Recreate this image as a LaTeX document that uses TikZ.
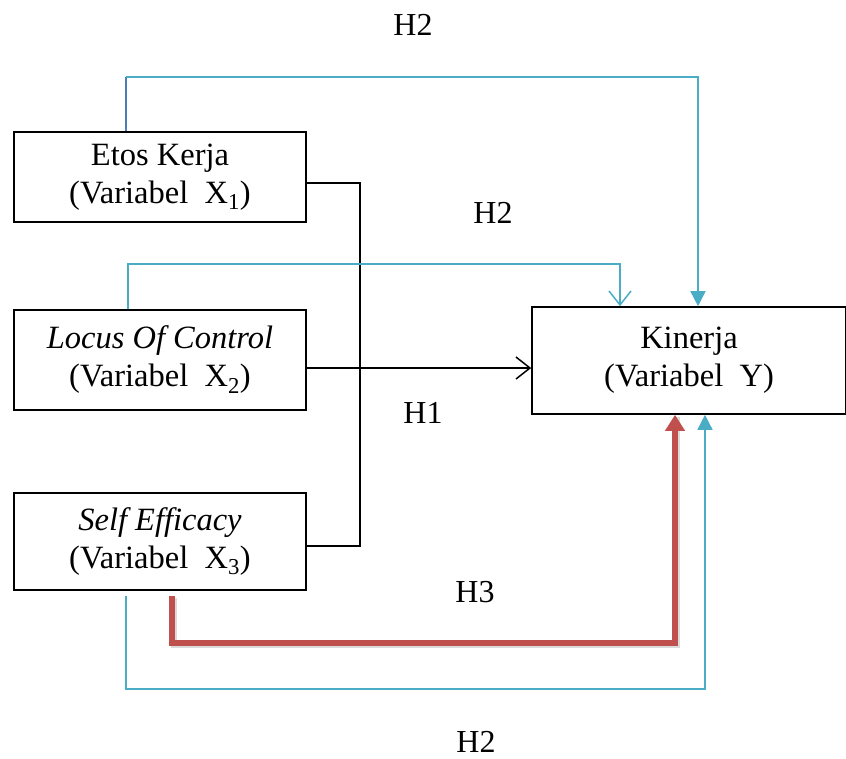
\documentclass[tikz,border=0pt]{standalone}
\usepackage{fontspec}
\setmainfont{Liberation Serif}
\usetikzlibrary{arrows.meta}
\definecolor{cblue}{HTML}{4BACC6}
\definecolor{dblue}{HTML}{4A7EBB}
\definecolor{cred}{HTML}{C0504D}
\begin{document}
\begin{tikzpicture}[x=1pt,y=-1pt,
  box/.style={draw=black,line width=1.6pt,fill=white,inner sep=0pt,align=center,
    font=\fontsize{32.5}{38}\selectfont},
  lbl/.style={font=\fontsize{32}{38}\selectfont,inner sep=0pt},
  blk/.style={draw=black,line width=1.6pt},
  bl/.style={draw=cblue,line width=1.5pt},
  rd/.style={draw=cred,line width=6pt},
  tri/.style={-{Triangle[length=15pt,width=15pt]}},
  barb/.style={-{Straight Barb[length=14pt,width=22pt,line width=1.5pt]}}
]
\useasboundingbox (0,0) rectangle (846,758);
\node[box,minimum width=292pt,minimum height=90pt] (x1) at (160,177)
  {Etos Kerja\\(Variabel\ \ X\textsubscript{1})};
\node[box,minimum width=292pt,minimum height=100pt] (x2) at (160,360)
  {\textit{Locus Of Control}\\(Variabel\ \ X\textsubscript{2})};
\node[box,minimum width=292pt,minimum height=97pt] (x3) at (160,541.5)
  {\textit{Self Efficacy}\\(Variabel\ \ X\textsubscript{3})};
\node[box,minimum width=314pt,minimum height=107pt] (y) at (689,360.5)
  {Kinerja\\(Variabel\ \ Y)};

\node[lbl] (h2a) at (413,25) {H2};
\node[lbl] (h2b) at (493,213) {H2};
\node[lbl] (h1) at (423,413) {H1};
\node[lbl] (h3) at (475,592) {H3};
\node[lbl] (h2c) at (476,742) {H2};

% black connectors
\coordinate (j1) at (360,183);
\coordinate (j2) at (360,546);
\draw[blk] (x1.east |- j1) -- (j1) -- (j2) -- (x3.east |- j2);
\coordinate (m2) at (0,368);
\draw[blk,barb] (x2.east |- m2) -- (y.west |- m2);

% top blue H2
\coordinate (t1) at (126,77);
\coordinate (t2) at (698,77);
\draw[draw=dblue,line width=1.5pt] (x1.north -| t1) -- (t1);
\draw[bl,tri] (t1) -- (t2) -- (y.north -| t2);

% second blue H2
\coordinate (s1) at (128,264);
\coordinate (s2) at (620,264);
\draw[bl,barb] (x2.north -| s1) -- (s1) -- (s2) -- (y.north -| s2);

% red H3
\coordinate (r0) at (172,596);
\coordinate (r1) at (172,643);
\coordinate (r2) at (675,643);
\draw[draw=black!35,line width=6pt,opacity=0.4,transform canvas={shift={(2pt,-2pt)}}] (r0) -- (r1) -- (r2) -- (r2 |- y.south);
\draw[rd,-{Triangle[length=16pt,width=19pt]}] (r0) -- (r1) -- (r2) -- (y.south -| r2);

% bottom blue H2
\coordinate (b0) at (126,596);
\coordinate (b1) at (126,689);
\coordinate (b2) at (705,689);
\draw[bl,tri] (b0) -- (b1) -- (b2) -- (y.south -| b2);
\end{tikzpicture}
\end{document}
